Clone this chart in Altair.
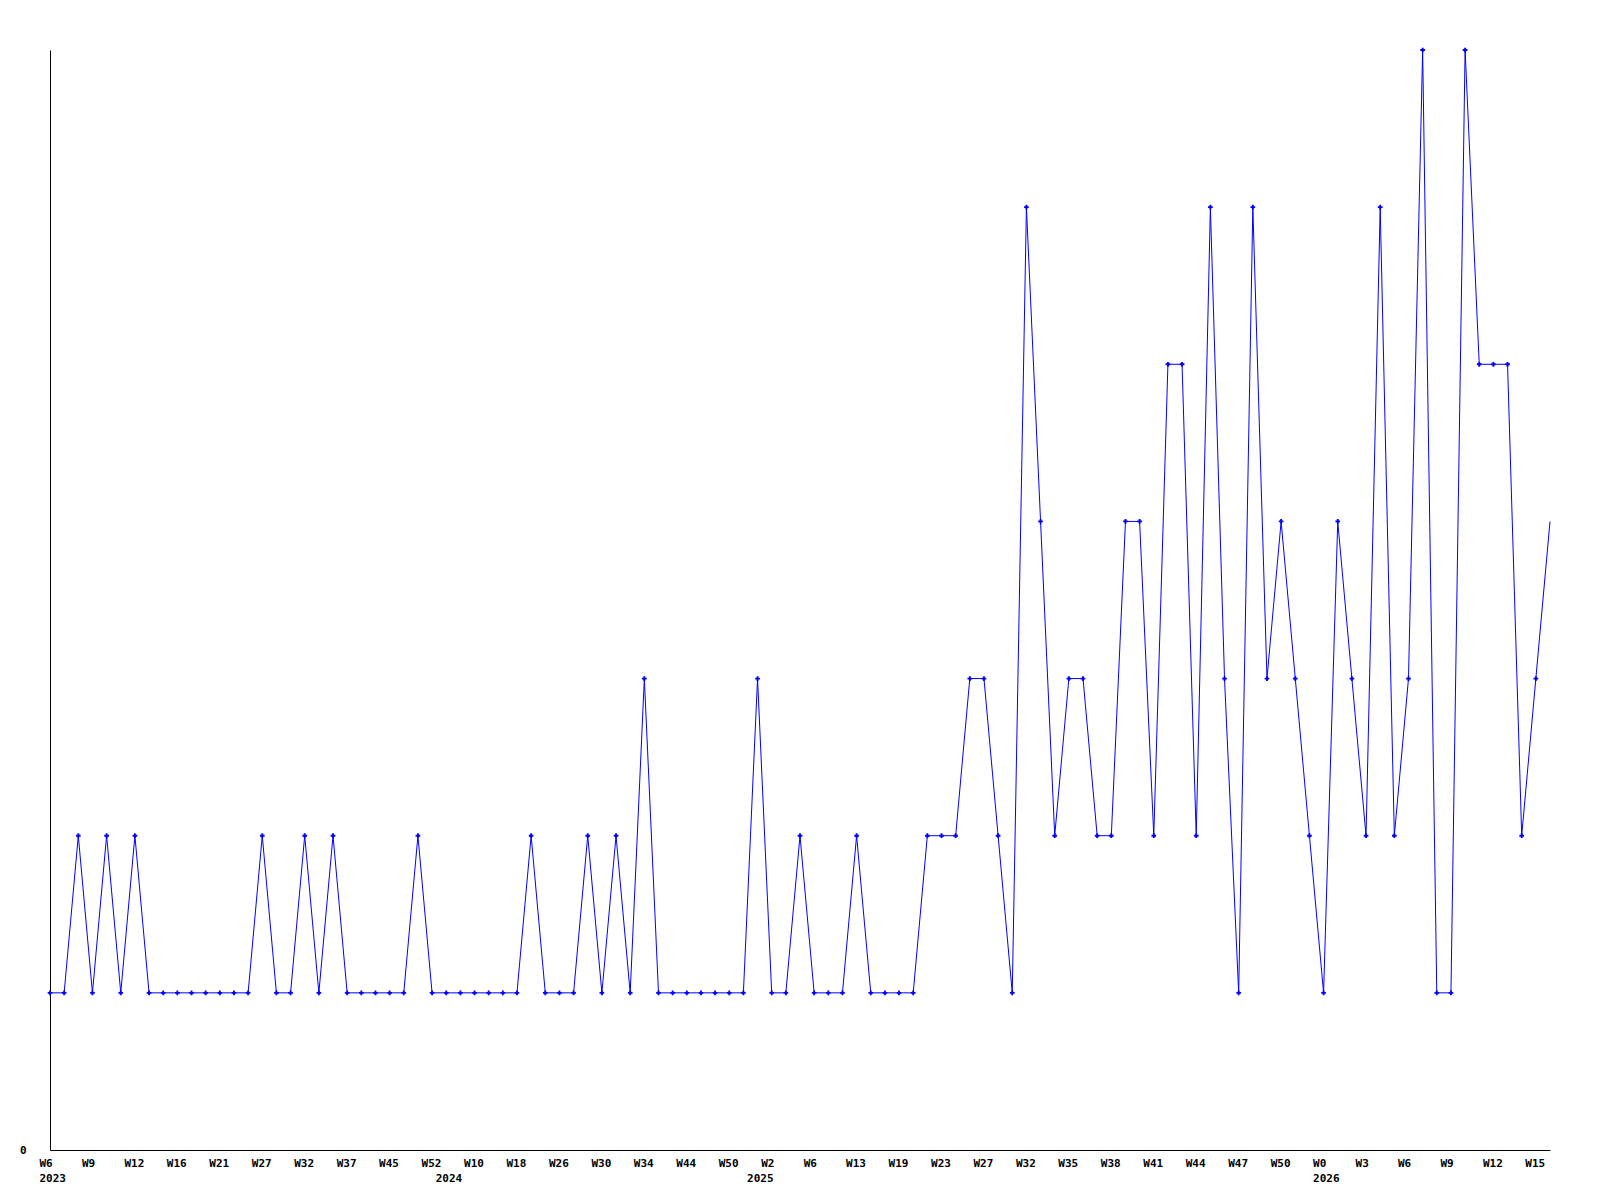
import json
import altair as alt
import pandas as pd

# Weekly counts, one per plotted point (left to right)
values = [
    1, 1, 2, 1, 2, 1, 2, 1, 1, 1, 1, 1, 1, 1, 1, 2, 1, 1, 2, 1, 2, 1,
    1, 1, 1, 1, 2, 1, 1, 1, 1, 1, 1, 1, 2, 1, 1, 1, 2, 1, 2, 1, 3, 1,
    1, 1, 1, 1, 1, 1, 3, 1, 1, 2, 1, 1, 1, 2, 1, 1, 1, 1,
    2, 2, 2, 3, 3, 2, 1, 6, 4, 2, 3, 3, 2, 2, 4, 4, 2, 5, 5, 2, 6, 3,
    1, 6, 3, 4, 3, 2, 1, 4, 3, 2, 6, 2, 3, 7, 1, 1, 7, 5, 5, 5, 2, 3, 4,
]

# Week tick labels, one for every third point
tick_labels = [
    "W6", "W9", "W12", "W16", "W21", "W27", "W32", "W37", "W45", "W52",
    "W10", "W18", "W26", "W30", "W34", "W44", "W50", "W2", "W6", "W13",
    "W19", "W23", "W27", "W32", "W35", "W38", "W41", "W44", "W47", "W50",
    "W0", "W3", "W6", "W9", "W12", "W15",
]

# Year labels and the point index where each year starts
year_labels = ["2023", "2024", "2025", "2026"]
year_start = [0, 28, 50, 90]

n = len(values)
df = pd.DataFrame({"i": list(range(n)), "v": values})
df_pts = df.iloc[:-1]  # last point drawn without a marker

FONT = "DejaVu Sans Mono"
BLUE = "#0000ff"

tick_vals = sorted(set(list(range(0, n, 3)) + year_start))
week_js = json.dumps(tick_labels)
year_js = json.dumps(year_labels)
yidx_js = json.dumps(year_start)
wk = f"(datum.value % 3 == 0 ? {week_js}[datum.value / 3] : '')"
yr = f"{year_js}[indexof({yidx_js}, datum.value)]"
label_expr = f"indexof({yidx_js}, datum.value) >= 0 ? [{wk}, {yr}] : {wk}"

x_enc = alt.X(
    "i:Q",
    scale=alt.Scale(domain=[0, n - 1], nice=False, zero=False),
    axis=alt.Axis(
        title=None, values=tick_vals, labelExpr=label_expr, grid=False,
        ticks=False, tickSize=0, labelAlign="left", labelBaseline="top",
        labelOffset=-11, labelPadding=7, labelLineHeight=15,
        labelOverlap=False, labelFlush=False, labelBound=False,
        labelFont=FONT, labelFontWeight="bold", labelFontSize=11,
        labelColor="black", domainColor="black", domainWidth=1,
    ),
)
y_enc = alt.Y(
    "v:Q",
    scale=alt.Scale(domain=[0, 7], nice=False, zero=True),
    axis=alt.Axis(
        title=None, values=[0], format="d", grid=False, ticks=False,
        tickSize=0, labelPadding=24, labelFont=FONT, labelFontWeight="bold",
        labelFontSize=11, labelColor="black", domainColor="black",
        domainWidth=1,
    ),
)

line = alt.Chart(df).mark_line(color=BLUE, strokeWidth=1).encode(x=x_enc, y=y_enc)
pts = alt.Chart(df_pts).mark_point(
    shape="cross", filled=True, size=22, color=BLUE, opacity=1
).encode(x="i:Q", y="v:Q")

chart = (
    alt.layer(line, pts)
    .properties(
        width=1500, height=1100,
        autosize=alt.AutoSizeParams(type="none"),
        padding={"left": 42, "top": 42, "right": 40, "bottom": 45},
        background="white",
    )
    .configure_view(stroke=None)
)

chart.save("out.html", embed_options={"renderer": "svg", "actions": False})
